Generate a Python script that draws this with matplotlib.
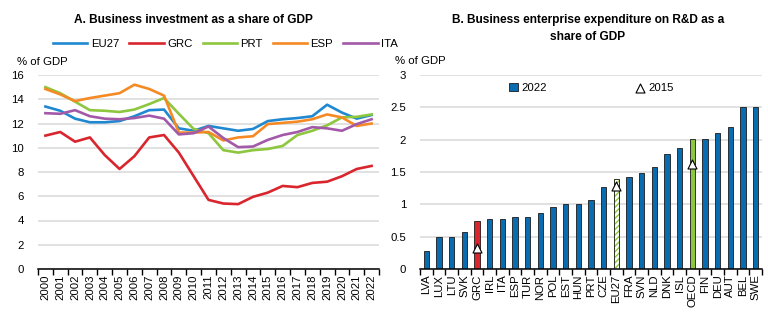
import matplotlib
matplotlib.use("Agg")
import matplotlib.pyplot as plt
import numpy as np
from matplotlib.ticker import MultipleLocator, FixedLocator, FuncFormatter

plt.rcParams['font.family'] = ['Liberation Sans', 'DejaVu Sans']
plt.rcParams['font.size'] = 8.2
plt.rcParams['hatch.linewidth'] = 1.0

# Panel A: business investment, % of GDP
years = [str(y) for y in range(2000, 2023)]
eu27 = [13.4, 13.05, 12.4, 12.1, 12.1, 12.2, 12.6, 13.1, 13.15, 11.6, 11.4, 11.8,
        11.6, 11.4, 11.55, 12.2, 12.35, 12.45, 12.6, 13.55, 12.9, 12.4, 12.7]
grc = [11.0, 11.3, 10.5, 10.85, 9.4, 8.25, 9.3, 10.85, 11.05, 9.6, 7.65, 5.7,
       5.4, 5.35, 5.95, 6.3, 6.85, 6.75, 7.1, 7.2, 7.65, 8.25, 8.5]
prt = [15.0, 14.5, 13.8, 13.1, 13.05, 12.95, 13.15, 13.6, 14.1, 12.8, 11.55, 11.2,
       9.8, 9.6, 9.8, 9.9, 10.15, 11.05, 11.4, 11.85, 12.5, 12.55, 12.75]
esp = [14.85, 14.4, 13.85, 14.1, 14.3, 14.5, 15.2, 14.85, 14.3, 11.25, 11.25, 11.3,
       10.6, 10.85, 10.95, 11.95, 12.05, 12.15, 12.35, 12.75, 12.5, 11.8, 12.0]
ita = [12.85, 12.8, 13.1, 12.6, 12.4, 12.35, 12.45, 12.65, 12.4, 11.1, 11.2, 11.75,
       10.8, 10.05, 10.1, 10.65, 11.05, 11.3, 11.7, 11.6, 11.4, 11.95, 12.35]

# Panel B: BERD, % of GDP
countries = ['LVA', 'LUX', 'LTU', 'SVK', 'GRC', 'IRL', 'ITA', 'ESP', 'TUR', 'NOR',
             'POL', 'EST', 'HUN', 'PRT', 'CZE', 'EU27', 'FRA', 'SVN', 'NLD', 'DNK',
             'ISL', 'OECD', 'FIN', 'DEU', 'AUT', 'BEL', 'SWE']
berd_2022 = [0.28, 0.50, 0.50, 0.565, 0.735, 0.77, 0.77, 0.81, 0.81, 0.865,
             0.96, 1.0, 1.0, 1.06, 1.27, 1.39, 1.43, 1.49, 1.57, 1.78,
             1.87, 2.01, 2.01, 2.1, 2.2, 2.5, 2.51]
berd_2015 = {'GRC': 0.32, 'EU27': 1.28, 'OECD': 1.63}

BLUE = '#1f88d0'
RED = '#d9262e'
GREEN = '#8dc63f'
ORANGE = '#f58a25'
PURPLE = '#a259a8'
BAR_BLUE = '#0a6cb0'
GRID = '#d9d9d9'

fig = plt.figure(figsize=(7.68, 3.26), dpi=100)

# ---- Panel A ----
ax1 = fig.add_axes([38 / 768, 57 / 326, 341 / 768, 194 / 326])
x = np.arange(len(years))
for vals, name, col in [(eu27, 'EU27', BLUE), (grc, 'GRC', RED), (prt, 'PRT', GREEN),
                        (esp, 'ESP', ORANGE), (ita, 'ITA', PURPLE)]:
    ax1.plot(x, vals, color=col, lw=1.9, label=name)

ax1.set_xlim(-0.5, len(years) - 0.5)
ax1.set_ylim(0, 16)
ax1.yaxis.set_major_locator(MultipleLocator(2))
ax1.set_xticks(x)
ax1.set_xticklabels(years, rotation=90)
ax1.xaxis.set_minor_locator(FixedLocator(np.arange(-0.5, len(years), 1)))
ax1.tick_params(axis='x', which='major', length=0, pad=4)
ax1.tick_params(axis='x', which='minor', length=4, width=1, direction='out')
ax1.tick_params(axis='y', length=0, pad=10)
ax1.grid(axis='y', color=GRID, lw=1.1)
ax1.set_axisbelow(True)
for s in ['top', 'right', 'left']:
    ax1.spines[s].set_visible(False)
ax1.spines['bottom'].set_linewidth(1.1)
fig.text(17 / 768, 1 - 62 / 326, '% of GDP', va='center')
ax1.legend(loc='center', bbox_to_anchor=(0.55, 1.16), ncol=5, frameon=False,
           handlelength=3.0, handletextpad=0.3, columnspacing=0.9, borderaxespad=0)
fig.text(193 / 768, 1 - 20 / 326, 'A. Business investment as a share of GDP',
         ha='center', va='center', fontweight='bold', fontsize=8.6)

# ---- Panel B ----
ax2 = fig.add_axes([420 / 768, 57 / 326, 342 / 768, 194 / 326])
xb = np.arange(len(countries))
colors = []
for c in countries:
    if c == 'GRC':
        colors.append(RED)
    elif c == 'OECD':
        colors.append(GREEN)
    elif c == 'EU27':
        colors.append('white')
    else:
        colors.append(BAR_BLUE)
bars = ax2.bar(xb, berd_2022, width=0.42, color=colors, edgecolor='#1a1a1a', lw=0.6,
               label='2022', zorder=2)
i_eu = countries.index('EU27')
bars[i_eu].set_hatch('//////')
bars[i_eu].set_edgecolor(GREEN)
ax2.bar(xb[i_eu], berd_2022[i_eu], width=0.42, facecolor='none',
        edgecolor='#1a1a1a', lw=0.6, zorder=3)

tri_x = [countries.index(c) for c in berd_2015]
tri_y = list(berd_2015.values())
tri = ax2.scatter(tri_x, tri_y, marker='^', s=42, facecolor='white', edgecolor='black',
                  lw=0.8, zorder=4, label='2015')

ax2.set_xlim(-0.5, len(countries) - 0.5)
ax2.set_ylim(0, 3)
ax2.yaxis.set_major_locator(MultipleLocator(0.5))
ax2.yaxis.set_major_formatter(FuncFormatter(lambda v, p: f'{v:g}'))
ax2.set_xticks(xb)
ax2.set_xticklabels(countries, rotation=90)
ax2.xaxis.set_minor_locator(FixedLocator(np.arange(-0.5, len(countries), 1)))
ax2.tick_params(axis='x', which='major', length=0, pad=4)
ax2.tick_params(axis='x', which='minor', length=4, width=1, direction='out')
ax2.tick_params(axis='y', length=0, pad=10)
ax2.grid(axis='y', color=GRID, lw=1.1, zorder=0)
ax2.set_axisbelow(True)
for s in ['top', 'right', 'left']:
    ax2.spines[s].set_visible(False)
ax2.spines['bottom'].set_linewidth(1.1)
fig.text(395 / 768, 1 - 61 / 326, '% of GDP', va='center')
ax2.legend(handles=[bars, tri], loc='center', bbox_to_anchor=(0.5, 0.933), ncol=2,
           frameon=False, handlelength=0.8, handletextpad=0.3, columnspacing=7.8,
           borderaxespad=0)
fig.text(588 / 768, 1 - 20 / 326, 'B. Business enterprise expenditure on R&D as a',
         ha='center', va='center', fontweight='bold', fontsize=8.6)
fig.text(588 / 768, 1 - 37 / 326, 'share of GDP',
         ha='center', va='center', fontweight='bold', fontsize=8.6)

fig.savefig('out.png', dpi=100)
